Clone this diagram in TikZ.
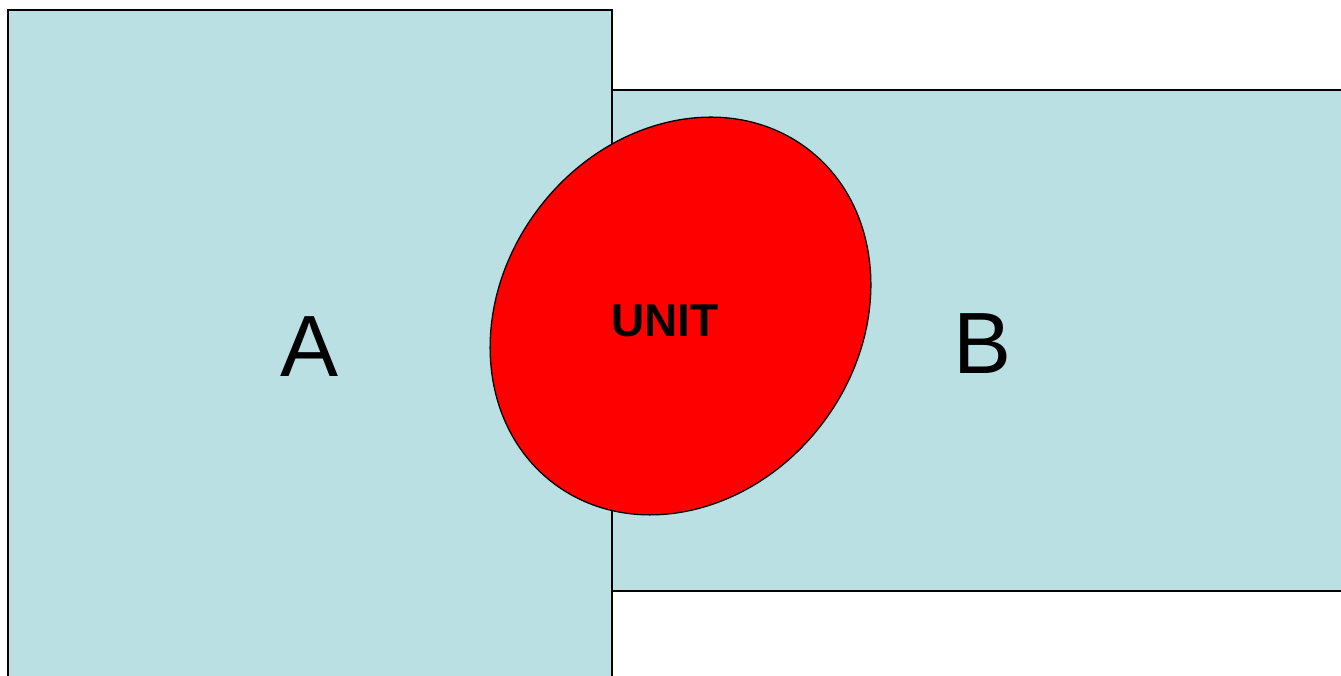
\documentclass[tikz,border=0pt]{standalone}
\usepackage{fontspec}
\setmainfont{Liberation Sans}
\definecolor{boxfill}{RGB}{186,224,227}
\begin{document}
\begin{tikzpicture}[x=1pt,y=1pt,
  panel/.style={draw=black,line width=2pt,fill=boxfill},
  bigletter/.style={font=\fontsize{87}{87}\selectfont,inner sep=0pt},
  unitlabel/.style={font=\fontsize{46}{46}\selectfont\bfseries,inner sep=0pt}]
\useasboundingbox (0,0) rectangle (1341,676);
\clip (0,0) rectangle (1341,676);
% A panel (image y from top: 10 .. beyond bottom)
\draw[panel] (8,666) rectangle (612,-20);
% B panel (y 90 .. 591)
\draw[panel] (612,586) rectangle (1360,85);
% UNIT ellipse
\draw[black,line width=1.3pt,fill=red] (680.5,360) ellipse [x radius=210, y radius=178, rotate=52.7];
\node[bigletter] (A) at (310,329) {A};
\node[bigletter] (B) at (983,332) {B};
\node[unitlabel] (U) at (665,355) {UNIT};
\end{tikzpicture}
\end{document}
